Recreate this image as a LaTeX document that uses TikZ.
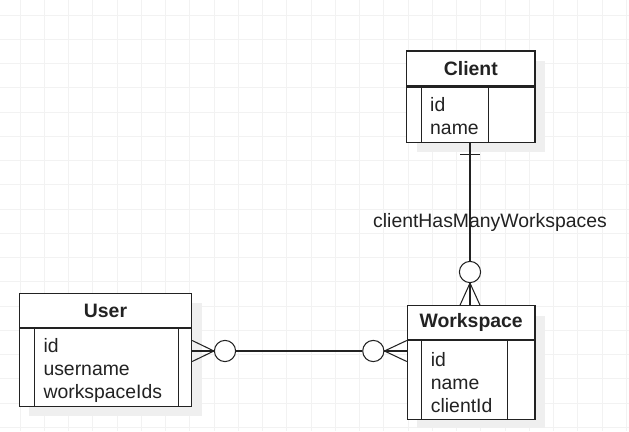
\documentclass[tikz,border=0pt]{standalone}
\usepackage{fontspec}
\setmainfont{Liberation Sans}
\usetikzlibrary{calc}
\definecolor{gridc}{HTML}{F2F2F2}
\definecolor{shadowc}{HTML}{EFEFEF}
\definecolor{linec}{HTML}{222222}
\tikzset{
  erline/.style={draw=linec, line width=1.05pt},
  titlebox/.style={erline, fill=white, rectangle, inner sep=0pt, font=\fontsize{19.4}{23}\selectfont\bfseries, text=linec},
  bodybox/.style={erline, fill=white, rectangle, inner sep=0pt},
  fields/.style={anchor=west, align=left, inner sep=0pt, font=\fontsize{19.4}{23}\selectfont, text=linec},
  ercirc/.style={erline, fill=white, circle, minimum size=21.2pt, inner sep=0pt},
  rellabel/.style={inner sep=0pt, font=\fontsize{19.4}{23}\selectfont, text=linec},
}
\begin{document}
\begin{tikzpicture}[x=1pt, y=-1pt]
\useasboundingbox (0,0) rectangle (629,431);
\fill[white] (0,0) rectangle (629,431);
% grid
\foreach \i in {0,...,25} \draw[gridc, line width=1pt] (20+\i*24.25,0) -- (20+\i*24.25,431);
\foreach \j in {0,...,17} \draw[gridc, line width=1pt] (0,15+\j*24.25) -- (629,15+\j*24.25);
% shadows
\fill[shadowc] (416.7,61) rectangle (545,151.7);
\fill[shadowc] (29.3,303.3) rectangle (201.7,415.7);
\fill[shadowc] (417.3,315.7) rectangle (545,428.3);

% Client
\node[titlebox, minimum width=128.3pt, minimum height=35pt] (clientT) at (470.85,68.5) {Client};
\node[bodybox, minimum width=128.3pt, minimum height=55.7pt, anchor=north] (clientB) at (clientT.south) {};
\draw[erline] ($(clientB.north west)+(15,0)$) -- ($(clientB.south west)+(15,0)$);
\draw[erline] ($(clientB.north east)+(-46.7,0)$) -- ($(clientB.south east)+(-46.7,0)$);
\node[fields] (clientF) at (430,116.5) {id\\name};

% User
\node[titlebox, minimum width=172.4pt, minimum height=34.4pt] (userT) at (105.5,310.5) {User};
\node[bodybox, minimum width=172.4pt, minimum height=78pt, anchor=north] (userB) at (userT.south) {};
\draw[erline] ($(userB.north west)+(15.7,0)$) -- ($(userB.south west)+(15.7,0)$);
\draw[erline] ($(userB.north east)+(-13.4,0)$) -- ($(userB.south east)+(-13.4,0)$);
\node[fields] (userF) at (43.3,370) {id\\username\\workspaceIds};

% Workspace
\node[titlebox, minimum width=127.7pt, minimum height=33.6pt] (wsT) at (471.15,322.5) {Workspace};
\node[bodybox, minimum width=127.7pt, minimum height=79pt, anchor=north] (wsB) at (wsT.south) {};
\draw[erline] ($(wsB.north west)+(15,0)$) -- ($(wsB.south west)+(15,0)$);
\draw[erline] ($(wsB.north east)+(-28.3,0)$) -- ($(wsB.south east)+(-28.3,0)$);
\node[fields] (wsF) at (430.7,383) {id\\name\\clientId};

% Client -- Workspace relation
\node[ercirc] (c1) at (470,272) {};
\draw[erline] (c1 |- clientB.south) -- (c1.north);
\draw[erline] ($(c1 |- clientB.south)+(-10,11)$) -- ++(20,0);
\draw[erline] (c1.south) -- (c1.south |- wsT.north);
\draw[erline] ($(c1.south |- wsT.north)+(-10,0)$) -- (c1.south) -- ($(c1.south |- wsT.north)+(10,0)$);
\node[rellabel] (lbl) at (490,222) {clientHasManyWorkspaces};

% User -- Workspace relation
\node[ercirc] (c2) at (225,351) {};
\node[ercirc] (c3) at (373.3,351) {};
\draw[erline] (c2.east) -- (c3.west);
\draw[erline] (userB.east |- c2.west) -- (c2.west);
\draw[erline] ($(userB.east |- c2.west)+(0,-10.5)$) -- (c2.west) -- ($(userB.east |- c2.west)+(0,10.5)$);
\draw[erline] (wsB.west |- c3.east) -- (c3.east);
\draw[erline] ($(wsB.west |- c3.east)+(0,-10.5)$) -- (c3.east) -- ($(wsB.west |- c3.east)+(0,10.5)$);
\end{tikzpicture}
\end{document}
